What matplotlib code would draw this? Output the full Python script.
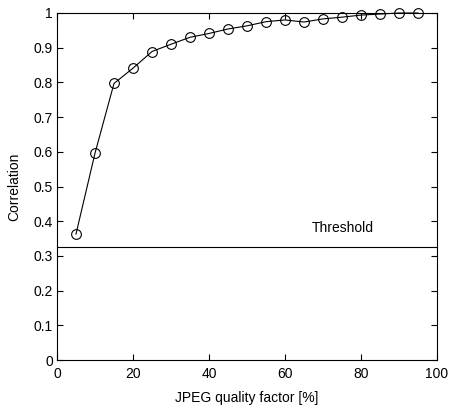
import matplotlib
matplotlib.use('Agg')
import matplotlib.pyplot as plt

plt.rcParams['font.family'] = ['Liberation Sans', 'DejaVu Sans']

# JPEG quality factor vs correlation
quality = [5, 10, 15, 20, 25, 30, 35, 40, 45, 50, 55, 60, 65, 70, 75, 80, 85, 90, 95]
correlation = [0.363, 0.596, 0.797, 0.841, 0.889, 0.910, 0.930, 0.941, 0.954, 0.963,
               0.975, 0.980, 0.974, 0.983, 0.988, 0.994, 0.997, 1.000, 1.000]
threshold = 0.327

fig = plt.figure(figsize=(4.5, 4.09), dpi=100)
ax = fig.add_axes([57 / 450, 1 - 360 / 409, 380 / 450, 347 / 409])

ax.plot(quality, correlation, color='black', linewidth=0.8, marker='o',
        markersize=7, markerfacecolor='none', markeredgecolor='black',
        markeredgewidth=0.8, clip_on=False)
ax.axhline(threshold, color='black', linewidth=0.8)
ax.text(67, 0.38, 'Threshold', fontsize=10, ha='left', va='center')

ax.set_xlim(0, 100)
ax.set_ylim(0, 1)
ax.set_xticks(range(0, 101, 20))
ax.set_yticks([i / 10 for i in range(11)])
ax.set_yticklabels(['0', '0.1', '0.2', '0.3', '0.4', '0.5', '0.6', '0.7', '0.8', '0.9', '1'])
ax.tick_params(direction='in', top=True, right=True, length=4, width=0.8,
               labelsize=10)
ax.tick_params(axis='x', pad=5)
ax.tick_params(axis='y', pad=3)
for sp in ax.spines.values():
    sp.set_linewidth(0.8)

ax.set_xlabel('JPEG quality factor [%]', fontsize=10, labelpad=7)
ax.set_ylabel('Correlation', fontsize=10, labelpad=9)

fig.savefig('out.png', dpi=100)
